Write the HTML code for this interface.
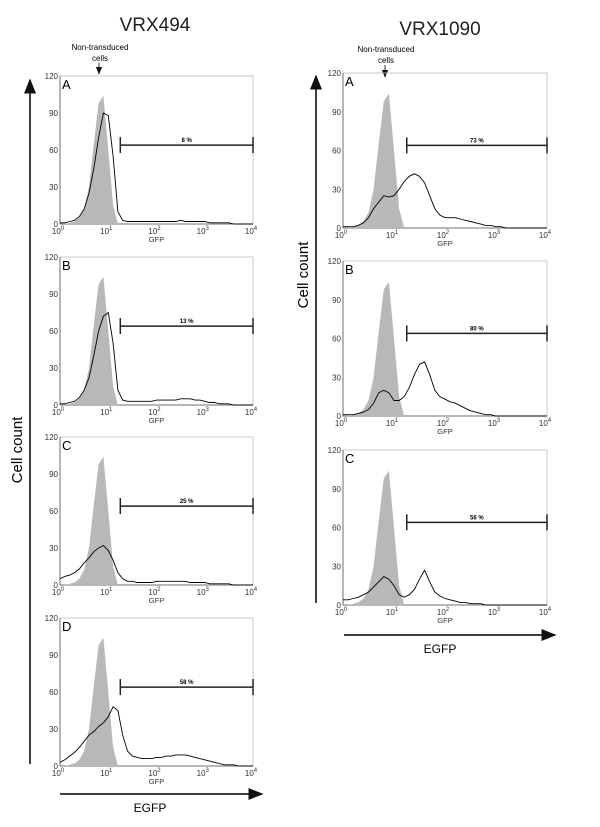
<!DOCTYPE html>
<html><head><meta charset="utf-8"><style>
body{margin:0;background:#fff;}
svg{display:block;font-family:"Liberation Sans",sans-serif;}
</style></head><body>
<svg id="fig" width="600" height="827" viewBox="0 0 600 827">
<defs><marker id="ah" markerWidth="10" markerHeight="8" refX="9" refY="4" orient="auto"><path d="M0,0 L10,4 L0,8 z" fill="#111"/></marker></defs>
<text x="155" y="31" font-size="19" text-anchor="middle" fill="#222">VRX494</text>
<text x="440" y="35" font-size="19" text-anchor="middle" fill="#222">VRX1090</text>
<g>
<text x="100" y="50" font-size="8" text-anchor="middle">Non-transduced</text>
<text x="100" y="61" font-size="8" text-anchor="middle">cells</text>
<line x1="99" y1="63" x2="99" y2="74" stroke="#000" stroke-width="0.8" marker-end="url(#ah)"/>
</g>
<g>
<text x="386" y="52" font-size="8" text-anchor="middle">Non-transduced</text>
<text x="386" y="63" font-size="8" text-anchor="middle">cells</text>
<line x1="385" y1="65" x2="385" y2="77" stroke="#000" stroke-width="0.8" marker-end="url(#ah)"/>
</g>
<line x1="30" y1="764" x2="30" y2="80" stroke="#000" stroke-width="1.5" marker-end="url(#ah)"/>
<text transform="translate(22,450) rotate(-90)" font-size="15" text-anchor="middle">Cell count</text>
<line x1="316" y1="603" x2="316" y2="76" stroke="#000" stroke-width="1.5" marker-end="url(#ah)"/>
<text transform="translate(308,275) rotate(-90)" font-size="15" text-anchor="middle">Cell count</text>
<line x1="60" y1="794" x2="262" y2="794" stroke="#000" stroke-width="1.5" marker-end="url(#ah)"/>
<text x="150" y="812" font-size="12" text-anchor="middle">EGFP</text>
<line x1="344" y1="635" x2="555" y2="635" stroke="#000" stroke-width="1.5" marker-end="url(#ah)"/>
<text x="440" y="653" font-size="12" text-anchor="middle">EGFP</text>
</svg>
<script>
const gray = [0,0,1,2,5,12,30,65,98,104,60,15,0,0,0,0,0,0,0,0,0,0,0,0,0,0,0,0,0,0,0,0,0,0,0,0,0,0,0,0,0];
const leftA = [1,1,2,3,6,12,25,45,70,90,88,55,10,3,2,2,2,2,2,2,2,2,2,2,2,3,2,2,2,2,2,1,1,1,1,1,0,0,0,0,0];
const leftB = [1,1,2,3,6,12,22,40,60,72,75,50,12,4,3,3,3,3,3,3,4,4,4,4,4,5,5,5,4,4,3,2,2,1,1,1,0,0,0,0,0];
const leftC = [5,7,8,10,13,18,22,27,30,32,28,20,10,5,3,3,2,2,2,2,3,3,3,3,3,3,3,2,2,2,2,1,1,1,1,1,0,0,0,0,0];
const leftD = [3,5,8,11,15,20,25,28,32,35,40,48,45,25,12,8,7,6,6,6,7,7,8,8,9,9,9,8,7,6,5,4,3,2,1,1,1,0,0,0,0];
const rightA = [1,1,1,2,4,8,15,20,25,24,25,30,36,40,42,40,35,25,15,10,8,8,8,7,6,5,4,3,2,2,1,1,0,0,0,0,0,0,0,0,0];
const rightB = [1,1,1,2,3,5,10,18,20,18,12,12,15,22,32,40,42,32,20,15,13,11,10,8,6,4,3,2,1,1,0,0,0,0,0,0,0,0,0,0,0];
const rightC = [4,4,5,6,8,10,14,18,22,20,15,8,6,8,12,20,27,18,10,7,5,4,3,2,2,1,1,1,0,0,0,0,0,0,0,0,0,0,0,0,0];
const letters = ["A","B","C","D"];
const leftGates = ["8 %","13 %","25 %","58 %"];
const rightGates = ["73 %","80 %","56 %"];
const yTicks = [0,30,60,90,120];
const xDecades = [0,1,2,3,4];
const gateLow = 1.25, gateLevel = 64;

const NS="http://www.w3.org/2000/svg";
const fig=document.getElementById('fig');
function mk(tag,attrs,parent){const e=document.createElementNS(NS,tag);for(const k in attrs)e.setAttribute(k,attrs[k]);parent.appendChild(e);return e;}

function panel(x0,x1,top,h,letter,gate,series,name){
  const g=mk('g',{},fig);
  
  
  const bottom=top+h;
  const xs=v=>x0+(x1-x0)*v/4;
  const ys=v=>bottom-h*v/120;
  const box=mk('rect',{x:x0,y:top,width:x1-x0,height:h,fill:'none',stroke:'#bbb','stroke-width':0.8},g);
  
  
  mk('line',{x1:x0,y1:top,x2:x0,y2:bottom,stroke:'#555','stroke-width':0.8},g);
  mk('line',{x1:x0,y1:bottom,x2:x1,y2:bottom,stroke:'#555','stroke-width':0.8},g);
  let d='M'+xs(0)+','+ys(0);
  gray.forEach((v,i)=>{d+=' L'+xs(i*0.1).toFixed(1)+','+ys(v).toFixed(1);});
  d+=' L'+xs(4)+','+ys(0)+' Z';
  const gp=mk('path',{d:d,fill:'#b8b8b8',stroke:'none'},g);
  
  
  const pts=series.map((v,i)=>xs(i*0.1).toFixed(1)+','+ys(v).toFixed(1)).join(' ');
  const pl=mk('polyline',{points:pts,fill:'none',stroke:'#000','stroke-width':0.9},g);
  
  
  yTicks.forEach(t=>{
    const tx=mk('text',{x:x0-2,y:ys(t)+3,'font-size':8,'text-anchor':'end',fill:'#333'},g);tx.textContent=t;
    
    
  });
  xDecades.forEach(t=>{
    const tx=mk('text',{x:xs(t)-2,y:bottom+10,'font-size':8,'text-anchor':'middle',fill:'#333'},g);
    tx.textContent='10';
    const s=mk('tspan',{dy:-4,'font-size':6},tx);s.textContent=t;
    
    
  });
  const gl=mk('text',{x:(x0+x1)/2,y:bottom+18,'font-size':7.5,'text-anchor':'middle',fill:'#333'},g);gl.textContent='GFP';
  
  
  const lt=mk('text',{x:x0+2,y:top+13,'font-size':13,fill:'#000'},g);lt.textContent=letter;
  
  
  const gy=ys(gateLevel);
  const gg=mk('g',{stroke:'#222','stroke-width':1.5},g);
  
  
  mk('line',{x1:xs(gateLow),y1:gy,x2:xs(4),y2:gy},gg);
  mk('line',{x1:xs(gateLow),y1:gy-8,x2:xs(gateLow),y2:gy+8},gg);
  mk('line',{x1:xs(4),y1:gy-8,x2:xs(4),y2:gy+8},gg);
  const pt=mk('text',{x:(xs(gateLow)+xs(4))/2,y:gy-3,'font-size':6,'font-weight':'bold','text-anchor':'middle'},g);pt.textContent=gate;
  
  
}
const leftSeries=[leftA,leftB,leftC,leftD];
const leftTops=[76,257,437,618];
leftSeries.forEach((s,i)=>panel(60,253,leftTops[i],148,letters[i],leftGates[i],s,'vrx494-panel-'+letters[i].toLowerCase()));
const rightSeries=[rightA,rightB,rightC];
const rightTops=[73,261,450];
rightSeries.forEach((s,i)=>panel(343,547,rightTops[i],155,letters[i],rightGates[i],s,'vrx1090-panel-'+letters[i].toLowerCase()));
</script>
</body></html>
